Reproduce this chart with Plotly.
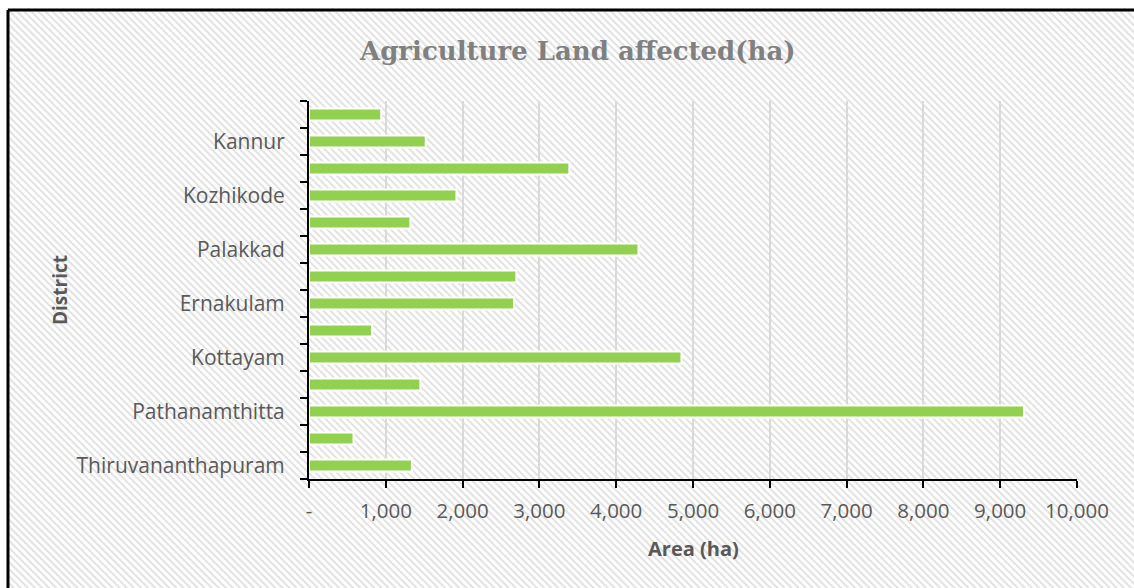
import base64
import plotly.graph_objects as go

# Kerala districts, listed bottom to top as drawn on the category axis
districts = [
    "Thiruvananthapuram", "Kollam", "Pathanamthitta", "Alappuzha", "Kottayam",
    "Idukki", "Ernakulam", "Thrissur", "Palakkad", "Malappuram",
    "Kozhikode", "Wayanad", "Kannur", "Kasaragod",
]
area_ha = [1340, 580, 9310, 1450, 4850, 820, 2670, 2700, 4290, 1320,
           1920, 3390, 1520, 940]

# only every other district name is printed on the axis
shown_labels = [d if i % 2 == 0 else "" for i, d in enumerate(districts)]

x_ticks = [0, 1000, 2000, 3000, 4000, 5000, 6000, 7000, 8000, 9000, 10000]
x_tick_text = ["-", "1,000", "2,000", "3,000", "4,000", "5,000", "6,000",
               "7,000", "8,000", "9,000", "10,000"]

W, H = 1134, 588
L, R, T, B = 309, 57, 101, 109
PW, PH = W - L - R, H - T - B

# diagonal hatch used as the chart-area fill
hatch_svg = f"""<svg xmlns='http://www.w3.org/2000/svg' width='{W}' height='{H}' viewBox='0 0 {W} {H}' preserveAspectRatio='none'>
<defs><pattern id='h' patternUnits='userSpaceOnUse' width='5' height='5' patternTransform='rotate(45)'>
<rect width='5' height='5' fill='#ffffff'/><rect width='5' height='2' fill='#e2e2e2'/></pattern></defs>
<rect width='{W}' height='{H}' fill='url(#h)'/></svg>"""
hatch_uri = "data:image/svg+xml;base64," + base64.b64encode(hatch_svg.encode()).decode()


def px_to_paper_x(px):
    return (px - L) / PW


def px_to_paper_y(py):
    return (H - B - py) / PH


fig = go.Figure(
    go.Bar(
        y=districts,
        x=area_ha,
        orientation="h",
        width=0.44,
        marker=dict(color="#92d050", line=dict(color="#ffffff", width=2)),
        hoverinfo="x+y",
    )
)

fig.update_layout(
    width=W,
    height=H,
    margin=dict(l=L, r=R, t=T, b=B),
    paper_bgcolor="#ffffff",
    plot_bgcolor="rgba(0,0,0,0)",
    showlegend=False,
    bargap=0.56,
    font=dict(family="Open Sans, sans-serif", color="#595959"),
    xaxis=dict(
        range=[0, 10000],
        tickvals=x_ticks,
        ticktext=x_tick_text,
        showgrid=True,
        gridcolor="#d9d9d9",
        gridwidth=1.5,
        zeroline=False,
        showline=True,
        linecolor="#000000",
        linewidth=2,
        ticks="outside",
        ticklen=7,
        tickwidth=2,
        tickcolor="#000000",
        tickfont=dict(size=20.5, color="#595959"),
        ticklabelstandoff=5,
        fixedrange=True,
    ),
    yaxis=dict(
        type="category",
        categoryorder="array",
        categoryarray=districts,
        tickvals=districts,
        ticktext=shown_labels,
        tickson="boundaries",
        showgrid=False,
        zeroline=False,
        showline=True,
        linecolor="#000000",
        linewidth=2,
        ticks="outside",
        ticklen=7,
        tickwidth=2,
        tickcolor="#000000",
        tickfont=dict(size=21, color="#595959"),
        ticklabelstandoff=18,
        fixedrange=True,
    ),
    images=[
        dict(
            source=hatch_uri,
            xref="paper",
            yref="paper",
            x=px_to_paper_x(0),
            y=px_to_paper_y(0),
            sizex=W / PW,
            sizey=H / PH,
            xanchor="left",
            yanchor="top",
            sizing="stretch",
            layer="below",
        )
    ],
    shapes=[
        # white margin outside the chart frame
        dict(type="rect", xref="paper", yref="paper",
             x0=px_to_paper_x(-2), x1=px_to_paper_x(W + 2),
             y0=px_to_paper_y(-2), y1=px_to_paper_y(8.5),
             fillcolor="#ffffff", line=dict(width=0), layer="below"),
        dict(type="rect", xref="paper", yref="paper",
             x0=px_to_paper_x(-2), x1=px_to_paper_x(6.5),
             y0=px_to_paper_y(H + 2), y1=px_to_paper_y(-2),
             fillcolor="#ffffff", line=dict(width=0), layer="below"),
        # chart frame
        dict(type="line", xref="paper", yref="paper",
             x0=px_to_paper_x(8), x1=px_to_paper_x(W + 5),
             y0=px_to_paper_y(10), y1=px_to_paper_y(10),
             line=dict(color="#000000", width=3)),
        dict(type="line", xref="paper", yref="paper",
             x0=px_to_paper_x(8), x1=px_to_paper_x(8),
             y0=px_to_paper_y(10), y1=px_to_paper_y(H + 5),
             line=dict(color="#000000", width=3)),
    ],
    annotations=[
        dict(text="<b>Agriculture Land affected(ha)</b>",
             xref="paper", yref="paper",
             x=px_to_paper_x(577), y=px_to_paper_y(51),
             xanchor="center", yanchor="middle", showarrow=False,
             font=dict(family="DejaVu Serif, serif", size=26, color="#808080")),
        dict(text="<b>Area (ha)</b>",
             xref="paper", yref="paper",
             x=px_to_paper_x(693), y=px_to_paper_y(548),
             xanchor="center", yanchor="middle", showarrow=False,
             font=dict(family="Open Sans, sans-serif", size=20, color="#595959")),
        dict(text="<b>District</b>",
             xref="paper", yref="paper",
             x=px_to_paper_x(60), y=px_to_paper_y(290),
             xanchor="center", yanchor="middle", showarrow=False, textangle=-90,
             font=dict(family="Open Sans, sans-serif", size=19, color="#595959")),
    ],
)

fig.write_html("out.html")
